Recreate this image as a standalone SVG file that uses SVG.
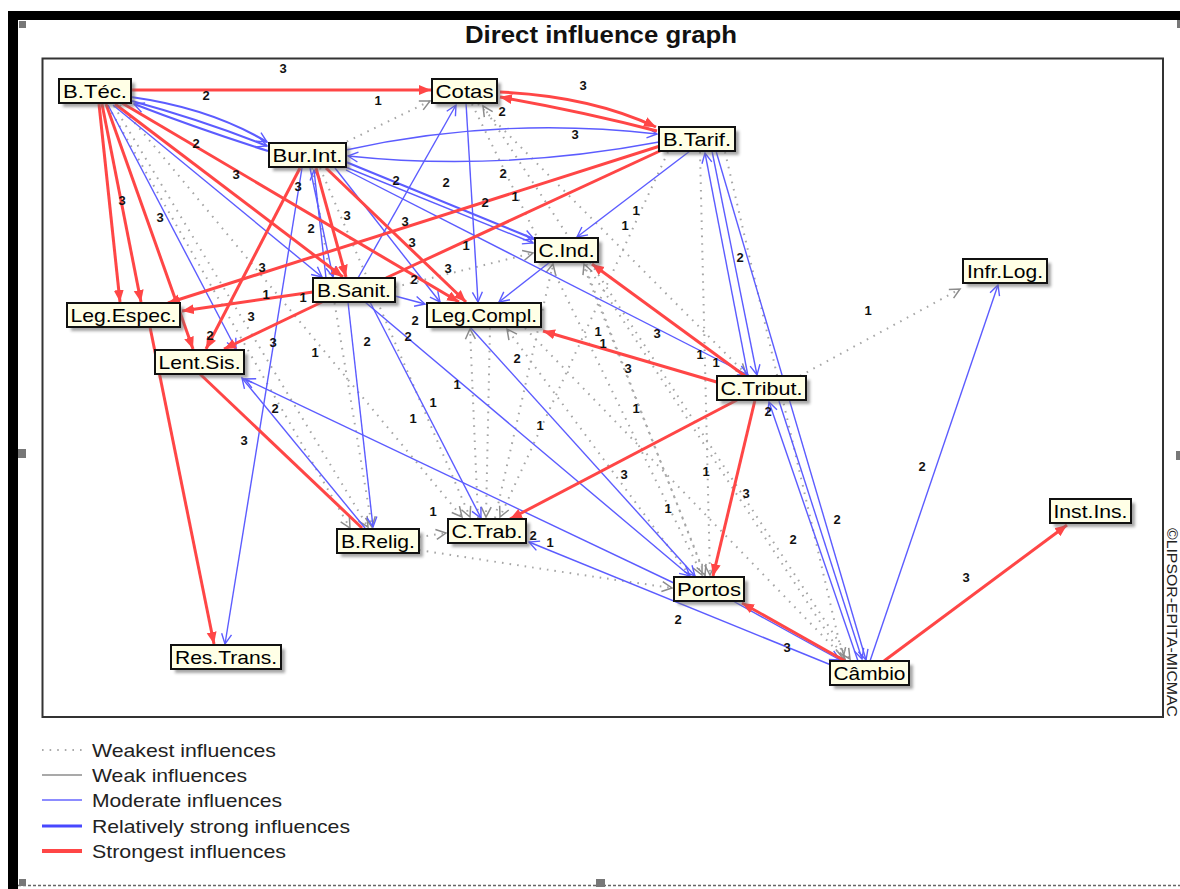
<svg xmlns="http://www.w3.org/2000/svg" width="1180" height="889" viewBox="0 0 1180 889">
<defs>
<style>
.r{stroke:#ff4646;stroke-width:3;fill:none;marker-end:url(#ar)}
.rn{stroke:#ff4646;stroke-width:3;fill:none}
.b{stroke:#5c5cff;stroke-width:1.4;fill:none;marker-end:url(#ab)}
.bb{stroke-width:2.2}
.g{stroke:#a6a6a6;stroke-width:2;stroke-dasharray:1.6 6;fill:none;marker-end:url(#ag)}
.lbl{font-family:"Liberation Sans",Arial,sans-serif;font-weight:bold;font-size:13px;fill:#111;text-anchor:middle}
.sh{fill:#6a6a6a;opacity:0.6;filter:url(#blur)}
.box{fill:#ffffe6;stroke:#111;stroke-width:2}
.node text{font-family:"Liberation Sans",Arial,sans-serif;font-size:19px;fill:#000;text-anchor:middle}
.leg{font-family:"Liberation Sans",Arial,sans-serif;font-size:19px;fill:#222}
</style>
<filter id="blur" x="-10%" y="-30%" width="120%" height="160%"><feGaussianBlur stdDeviation="1.4"/></filter>
<marker id="ar" markerUnits="userSpaceOnUse" markerWidth="13" markerHeight="11" refX="12" refY="5" orient="auto"><path d="M0,0 L12,5 L0,10 z" fill="#ff4646"/></marker>
<marker id="ab" markerUnits="userSpaceOnUse" markerWidth="13" markerHeight="13" refX="11" refY="6" orient="auto"><path d="M1,1 L11,6 L1,11" fill="none" stroke="#5c5cff" stroke-width="1.4"/></marker>
<marker id="ag" markerUnits="userSpaceOnUse" markerWidth="13" markerHeight="13" refX="11" refY="6" orient="auto"><path d="M1,1 L11,6 L1,11" fill="none" stroke="#8c8c8c" stroke-width="1.5"/></marker>
</defs>
<rect x="0" y="0" width="1180" height="889" fill="#ffffff"/>
<g id="frame">
<rect x="8" y="11" width="1172" height="9" fill="#000"/>
<rect x="8" y="11" width="10" height="878" fill="#000"/>
<line x1="18" y1="885.5" x2="1180" y2="885.5" stroke="#666" stroke-width="1.5" stroke-dasharray="3 2"/>
<rect x="19" y="21" width="7" height="7" fill="#777"/>
<rect x="18" y="449" width="8" height="9" fill="#777"/>
<rect x="19" y="879" width="7" height="7" fill="#777"/>
<rect x="596" y="879" width="9" height="8" fill="#777"/>
<rect x="1176" y="451" width="4" height="9" fill="#777"/>
<rect x="1177" y="20" width="3" height="8" fill="#777"/>
<rect x="42.5" y="58.5" width="1120.5" height="658.5" fill="none" stroke="#333" stroke-width="2"/>
<text x="601" y="43" font-family="'Liberation Sans',Arial,sans-serif" font-weight="bold" font-size="23" fill="#111" text-anchor="middle" textLength="272" lengthAdjust="spacingAndGlyphs">Direct influence graph</text>
<text transform="translate(1167,528) rotate(90)" font-family="'Liberation Sans',Arial,sans-serif" font-size="14" fill="#222" textLength="189" lengthAdjust="spacingAndGlyphs">©LIPSOR-EPITA-MICMAC</text>
</g>
<g id="connectors">
<path class="g" d="M340,145 L430,101"/>
<path class="g" d="M108,106 L350,528"/>
<path class="g" d="M114,106 L368,527"/>
<path class="g" d="M120,105 L462,517"/>
<path class="g" d="M312,168 L372,527"/>
<path class="g" d="M320,168 L470,517"/>
<path class="g" d="M478,104 L746,374"/>
<path class="g" d="M845,660 L483,106"/>
<path class="g" d="M472,104 L702,575"/>
<path class="g" d="M700,152 L710,575"/>
<path class="g" d="M725,152 L843,658"/>
<path class="g" d="M668,152 L500,517"/>
<path class="g" d="M800,376 L960,289"/>
<path class="g" d="M419,537 L446,533"/>
<path class="g" d="M419,550 Q560,572 672,588"/>
<path class="g" d="M478,518 L470,329"/>
<path class="g" d="M490,328 L486,517"/>
<path class="g" d="M690,576 L507,329"/>
<path class="g" d="M495,518 L553,264"/>
<path class="g" d="M705,576 L584,264"/>
<path class="g" d="M395,287 L533,253"/>
<path class="g" d="M525,328 L845,659"/>
<path class="g" d="M590,262 L850,659"/>
<path class="g" d="M582,262 L705,575"/>
<path class="b bb" d="M131,97 Q210,108 267,142"/>
<path class="b bb" d="M132,101 Q205,121 267,146"/>
<path class="b bb" d="M268,151 Q196,128 134,104"/>
<path class="b" d="M108,105 L236,349"/>
<path class="b" d="M113,105 L322,277"/>
<path class="b" d="M346,150 Q500,116 657,134"/>
<path class="b" d="M659,142 Q500,172 348,156"/>
<path class="b bb" d="M346,162 L534,239"/>
<path class="b" d="M343,166 L533,243"/>
<path class="b" d="M346,170 L748,375"/>
<path class="b" d="M302,168 L225,644"/>
<path class="b" d="M310,168 L333,277"/>
<path class="b" d="M326,278 L314,170"/>
<path class="b" d="M335,168 L440,302"/>
<path class="b" d="M358,278 L456,105"/>
<path class="b" d="M466,103 L478,302"/>
<path class="b" d="M550,262 L499,302"/>
<path class="b" d="M690,151 L577,237"/>
<path class="b" d="M748,376 L705,153"/>
<path class="b" d="M712,151 L757,375"/>
<path class="b" d="M716,151 L866,660"/>
<path class="b" d="M858,661 L769,402"/>
<path class="b" d="M779,401 L862,659"/>
<path class="b" d="M870,661 L998,285"/>
<path class="b" d="M836,667 L529,542"/>
<path class="b" d="M733,601 L840,660"/>
<path class="b" d="M676,584 L245,379"/>
<path class="b" d="M365,528 L242,378"/>
<path class="b" d="M348,302 L373,527"/>
<path class="b" d="M370,302 L481,518"/>
<path class="b" d="M365,302 L690,576"/>
<path class="b" d="M470,327 L695,576"/>
<path class="b" d="M395,296 L425,304"/>
<path class="r" d="M131,90 L431,90"/>
<path class="r" d="M657,131 Q585,112 500,97"/>
<path class="r" d="M500,92 Q590,96 656,127"/>
<path class="r" d="M99,104 L120,302"/>
<path class="r" d="M102,104 L141,302"/>
<path class="r" d="M106,104 L193,349"/>
<path class="r" d="M115,104 L343,277"/>
<path class="r" d="M122,103 L459,302"/>
<path class="r" d="M316,168 L346,277"/>
<path class="r" d="M326,168 L466,302"/>
<path class="r" d="M300,168 L206,349"/>
<path class="r" d="M660,146 L168,303"/>
<path class="rn" d="M662,150 L386,278"/>
<path class="r" d="M313,292 L182,311"/>
<path class="r" d="M322,302 L224,349"/>
<path class="r" d="M150,327 L214,644"/>
<path class="rn" d="M200,374 L362,528"/>
<path class="r" d="M745,376 L592,264"/>
<path class="r" d="M720,383 L543,331"/>
<path class="r" d="M737,400 L510,519"/>
<path class="r" d="M755,400 L713,576"/>
<path class="r" d="M845,661 L742,603"/>
<path class="r" d="M884,661 L1067,525"/>
<g id="labels">
<text class="lbl" x="283" y="73">3</text>
<text class="lbl" x="206" y="100">2</text>
<text class="lbl" x="378" y="105">1</text>
<text class="lbl" x="583" y="90">3</text>
<text class="lbl" x="502" y="116">2</text>
<text class="lbl" x="575" y="139">3</text>
<text class="lbl" x="196" y="148">2</text>
<text class="lbl" x="236" y="179">3</text>
<text class="lbl" x="298" y="191">3</text>
<text class="lbl" x="396" y="185">2</text>
<text class="lbl" x="446" y="187">2</text>
<text class="lbl" x="503" y="178">2</text>
<text class="lbl" x="485" y="207">2</text>
<text class="lbl" x="515" y="201">1</text>
<text class="lbl" x="122" y="205">3</text>
<text class="lbl" x="160" y="222">3</text>
<text class="lbl" x="311" y="233">2</text>
<text class="lbl" x="347" y="220">3</text>
<text class="lbl" x="405" y="226">3</text>
<text class="lbl" x="412" y="247">3</text>
<text class="lbl" x="466" y="250">1</text>
<text class="lbl" x="448" y="273">3</text>
<text class="lbl" x="414" y="284">2</text>
<text class="lbl" x="636" y="215">1</text>
<text class="lbl" x="625" y="230">1</text>
<text class="lbl" x="740" y="262">2</text>
<text class="lbl" x="262" y="272">3</text>
<text class="lbl" x="266" y="299">1</text>
<text class="lbl" x="303" y="302">1</text>
<text class="lbl" x="251" y="321">3</text>
<text class="lbl" x="210" y="340">2</text>
<text class="lbl" x="273" y="347">3</text>
<text class="lbl" x="315" y="357">1</text>
<text class="lbl" x="367" y="346">2</text>
<text class="lbl" x="415" y="325">2</text>
<text class="lbl" x="408" y="341">2</text>
<text class="lbl" x="598" y="336">1</text>
<text class="lbl" x="603" y="348">1</text>
<text class="lbl" x="657" y="338">3</text>
<text class="lbl" x="700" y="359">1</text>
<text class="lbl" x="716" y="367">1</text>
<text class="lbl" x="628" y="373">3</text>
<text class="lbl" x="517" y="363">2</text>
<text class="lbl" x="457" y="389">1</text>
<text class="lbl" x="433" y="407">1</text>
<text class="lbl" x="413" y="423">1</text>
<text class="lbl" x="275" y="413">2</text>
<text class="lbl" x="540" y="430">1</text>
<text class="lbl" x="636" y="413">1</text>
<text class="lbl" x="244" y="445">3</text>
<text class="lbl" x="624" y="479">3</text>
<text class="lbl" x="706" y="476">1</text>
<text class="lbl" x="668" y="513">1</text>
<text class="lbl" x="746" y="498">3</text>
<text class="lbl" x="768" y="416">2</text>
<text class="lbl" x="922" y="471">2</text>
<text class="lbl" x="868" y="315">1</text>
<text class="lbl" x="837" y="524">2</text>
<text class="lbl" x="793" y="544">2</text>
<text class="lbl" x="966" y="582">3</text>
<text class="lbl" x="433" y="516">1</text>
<text class="lbl" x="533" y="540">2</text>
<text class="lbl" x="550" y="547">1</text>
<text class="lbl" x="678" y="624">2</text>
<text class="lbl" x="787" y="652">3</text>
</g>
</g>
<g id="n-btec" class="node"><rect class="sh" x="63" y="83" width="72" height="24"/><rect class="box" x="59" y="79" width="72" height="24"/><text x="95" y="98" textLength="64" lengthAdjust="spacingAndGlyphs">B.Téc.</text></g>
<g id="n-cotas" class="node"><rect class="sh" x="436" y="83" width="65" height="24"/><rect class="box" x="432" y="79" width="65" height="24"/><text x="464.5" y="98" textLength="58" lengthAdjust="spacingAndGlyphs">Cotas</text></g>
<g id="n-btarif" class="node"><rect class="sh" x="663" y="131" width="76" height="24"/><rect class="box" x="659" y="127" width="76" height="24"/><text x="697" y="146" textLength="68" lengthAdjust="spacingAndGlyphs">B.Tarif.</text></g>
<g id="n-burint" class="node"><rect class="sh" x="273" y="147" width="77" height="24"/><rect class="box" x="269" y="143" width="77" height="24"/><text x="307.5" y="162" textLength="70" lengthAdjust="spacingAndGlyphs">Bur.Int.</text></g>
<g id="n-cind" class="node"><rect class="sh" x="539" y="242" width="63" height="24"/><rect class="box" x="535" y="238" width="63" height="24"/><text x="566.5" y="257" textLength="56" lengthAdjust="spacingAndGlyphs">C.Ind.</text></g>
<g id="n-infrlog" class="node"><rect class="sh" x="967" y="263" width="84" height="24"/><rect class="box" x="963" y="259" width="84" height="24"/><text x="1005" y="278" textLength="76" lengthAdjust="spacingAndGlyphs">Infr.Log.</text></g>
<g id="n-bsanit" class="node"><rect class="sh" x="317" y="282" width="82" height="24"/><rect class="box" x="313" y="278" width="82" height="24"/><text x="354" y="297" textLength="74" lengthAdjust="spacingAndGlyphs">B.Sanit.</text></g>
<g id="n-legespec" class="node"><rect class="sh" x="71" y="307" width="113" height="24"/><rect class="box" x="67" y="303" width="113" height="24"/><text x="123.5" y="322" textLength="106" lengthAdjust="spacingAndGlyphs">Leg.Espec.</text></g>
<g id="n-legcompl" class="node"><rect class="sh" x="431" y="307" width="114" height="24"/><rect class="box" x="427" y="303" width="114" height="24"/><text x="484" y="322" textLength="106" lengthAdjust="spacingAndGlyphs">Leg.Compl.</text></g>
<g id="n-lentsis" class="node"><rect class="sh" x="159" y="354" width="89" height="24"/><rect class="box" x="155" y="350" width="89" height="24"/><text x="199.5" y="369" textLength="82" lengthAdjust="spacingAndGlyphs">Lent.Sis.</text></g>
<g id="n-ctribut" class="node"><rect class="sh" x="721" y="380" width="89" height="24"/><rect class="box" x="717" y="376" width="89" height="24"/><text x="761.5" y="395" textLength="82" lengthAdjust="spacingAndGlyphs">C.Tribut.</text></g>
<g id="n-instins" class="node"><rect class="sh" x="1054" y="503" width="81" height="24"/><rect class="box" x="1050" y="499" width="81" height="24"/><text x="1090.5" y="518" textLength="74" lengthAdjust="spacingAndGlyphs">Inst.Ins.</text></g>
<g id="n-ctrab" class="node"><rect class="sh" x="452" y="523" width="78" height="24"/><rect class="box" x="448" y="519" width="78" height="24"/><text x="487" y="538" textLength="71" lengthAdjust="spacingAndGlyphs">C.Trab.</text></g>
<g id="n-brelig" class="node"><rect class="sh" x="341" y="533" width="82" height="24"/><rect class="box" x="337" y="529" width="82" height="24"/><text x="378" y="548" textLength="74" lengthAdjust="spacingAndGlyphs">B.Relig.</text></g>
<g id="n-portos" class="node"><rect class="sh" x="678" y="581" width="70" height="24"/><rect class="box" x="674" y="577" width="70" height="24"/><text x="709" y="596" textLength="64" lengthAdjust="spacingAndGlyphs">Portos</text></g>
<g id="n-restrans" class="node"><rect class="sh" x="175" y="649" width="110" height="24"/><rect class="box" x="171" y="645" width="110" height="24"/><text x="226" y="664" textLength="102" lengthAdjust="spacingAndGlyphs">Res.Trans.</text></g>
<g id="n-cambio" class="node"><rect class="sh" x="834" y="665" width="79" height="24"/><rect class="box" x="830" y="661" width="79" height="24"/><text x="869.5" y="680" textLength="72" lengthAdjust="spacingAndGlyphs">Câmbio</text></g>
<g id="legend">
<line x1="42" y1="750" x2="82" y2="750" stroke="#aaa" stroke-width="2" stroke-dasharray="1.6 6"/>
<line x1="42" y1="775" x2="82" y2="775" stroke="#555" stroke-width="1.2"/>
<line x1="42" y1="800" x2="82" y2="800" stroke="#6666ff" stroke-width="1.5"/>
<line x1="42" y1="826" x2="82" y2="826" stroke="#4848ff" stroke-width="3"/>
<line x1="42" y1="851" x2="82" y2="851" stroke="#ff4646" stroke-width="4"/>
<text class="leg" x="92" y="757" textLength="184" lengthAdjust="spacingAndGlyphs">Weakest influences</text>
<text class="leg" x="92" y="782" textLength="155" lengthAdjust="spacingAndGlyphs">Weak influences</text>
<text class="leg" x="92" y="807" textLength="190" lengthAdjust="spacingAndGlyphs">Moderate influences</text>
<text class="leg" x="92" y="833" textLength="258" lengthAdjust="spacingAndGlyphs">Relatively strong influences</text>
<text class="leg" x="92" y="858" textLength="194" lengthAdjust="spacingAndGlyphs">Strongest influences</text>
</g>
</svg>
